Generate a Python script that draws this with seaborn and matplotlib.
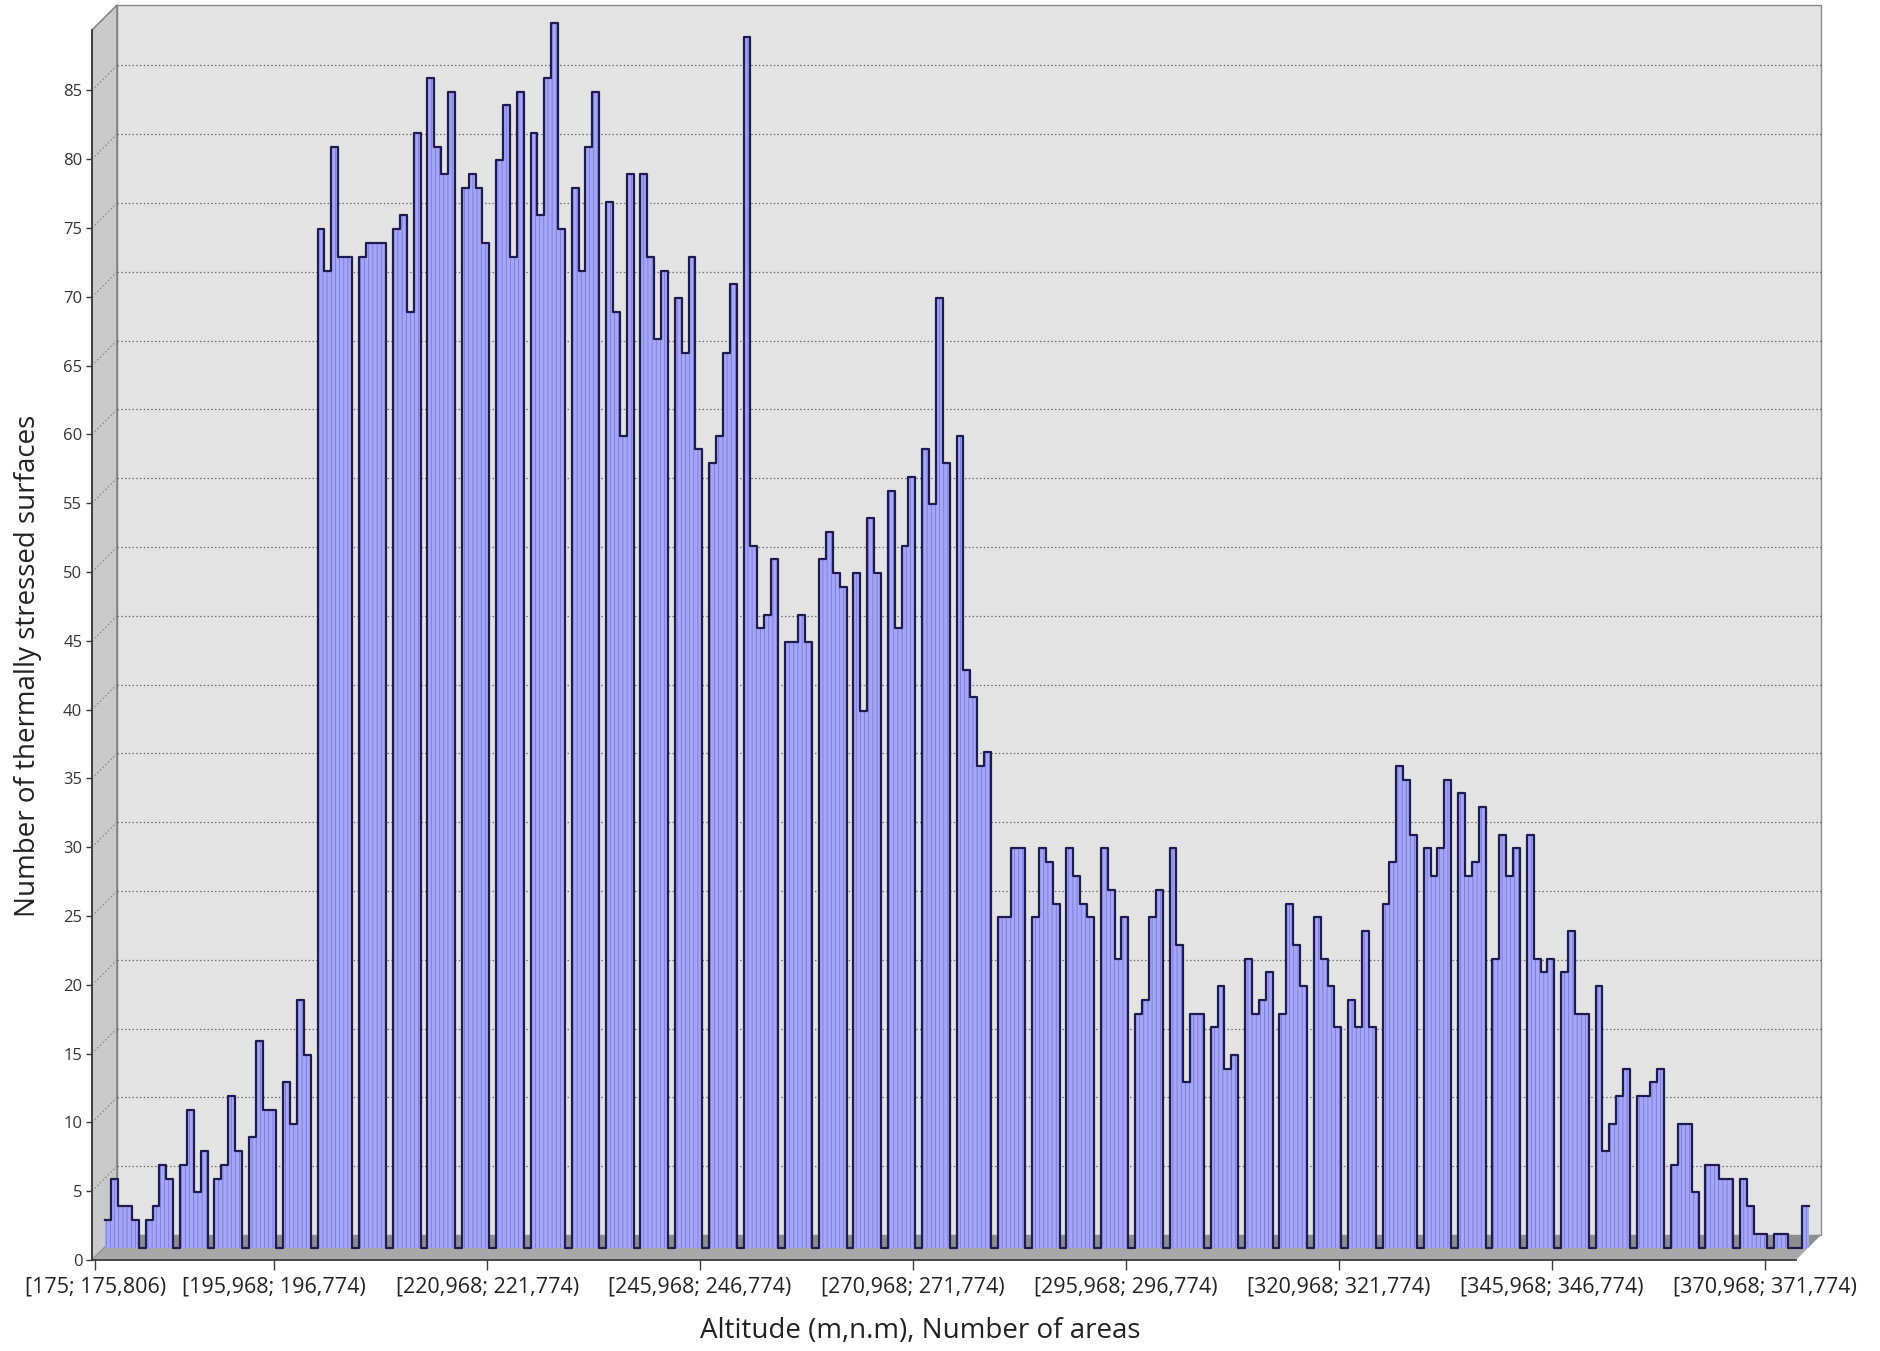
import numpy as np
import pandas as pd
import matplotlib
matplotlib.use("Agg")
import matplotlib.pyplot as plt
import matplotlib.transforms as mtransforms
from matplotlib.patches import Polygon, Rectangle
import seaborn as sns

# ---------------- data ----------------
bin_start = 175.0
bin_width = 25.0 / 31.0
counts = [
    2, 5, 3, 3, 2, 0, 2, 3, 6, 5, 0, 6, 10, 4, 7, 0, 5, 6, 11, 7, 0,
    8, 15, 10, 10, 0, 12, 9, 18, 14, 0,
    74, 71, 80, 72, 72, 0, 72, 73, 73, 73, 0, 74, 75, 68, 81, 0,
    85, 80, 78, 84, 0, 77, 78, 77, 73, 0, 79, 83, 72, 84, 0,
    81, 75, 85, 89, 74, 0, 77, 71, 80, 84, 0, 76, 68, 59, 78, 0,
    78, 72, 66, 71, 0, 69, 65, 72, 58, 0, 57, 59, 65, 70, 0,
    88, 51, 45, 46, 50, 0, 44, 44, 46, 44, 0, 50, 52, 49, 48, 0,
    49, 39, 53, 49, 0, 55, 45, 51, 56, 0, 58, 54, 69, 57, 0,
    59, 42, 40, 35, 36, 0, 24, 24, 29, 29, 0, 24, 29, 28, 25, 0,
    29, 27, 25, 24, 0, 29, 26, 21, 24, 0, 17, 18, 24, 26, 0,
    29, 22, 12, 17, 17, 0, 16, 19, 13, 14, 0, 21, 17, 18, 20, 0,
    17, 25, 22, 19, 0, 24, 21, 19, 16, 0, 18, 16, 23, 16, 0,
    25, 28, 35, 34, 30, 0, 29, 27, 29, 34, 0, 33, 27, 28, 32, 0,
    21, 30, 27, 29, 0, 30, 21, 20, 21, 0, 20, 23, 17, 17, 0,
    19, 7, 9, 11, 13, 0, 11, 11, 12, 13, 0, 6, 9, 9, 4, 0,
    6, 6, 5, 5, 0, 5, 3, 1, 1, 0, 1, 1, 0, 0, 3,
]
tick_bins = [0, 26, 57, 88, 119, 150, 181, 212, 243]
tick_labels = ["[175; 175,806)", "[195,968; 196,774)", "[220,968; 221,774)",
               "[245,968; 246,774)", "[270,968; 271,774)", "[295,968; 296,774)",
               "[320,968; 321,774)", "[345,968; 346,774)", "[370,968; 371,774)"]
y_ticks = list(range(0, 90, 5))
x_label = "Altitude (m,n.m), Number of areas"
y_label = "Number of thermally stressed surfaces"

n_bins = len(counts)
edges = bin_start + np.arange(n_bins + 1) * bin_width
centers = (edges[:-1] + edges[1:]) / 2
df = pd.DataFrame({"altitude": centers, "count": counts})

# ---------------- figure ----------------
W, H, DPI = 1881, 1351, 100
fig = plt.figure(figsize=(W / DPI, H / DPI), dpi=DPI)
fig.patch.set_facecolor("white")

x0, x1 = 92, 1796        # front plane, pixels
y_bot, y_top = 1260, 30  # front plane, pixels from top
px_per_unit = 13.76
ax = fig.add_axes([x0 / W, (H - y_bot) / H, (x1 - x0) / W, (y_bot - y_top) / H])
ax.set_xlim(edges[0], edges[-1])
ymax = (y_bot - y_top) / px_per_unit
ax.set_ylim(0, ymax)
ax.patch.set_visible(False)
for s in ax.spines.values():
    s.set_visible(False)

depth = 25.0  # 3D depth in px


def off(dx, dy):
    return mtransforms.ScaledTranslation(dx / DPI, dy / DPI, fig.dpi_scale_trans)


back = ax.transData + off(depth, depth)
mid = ax.transData + off(depth / 2, depth / 2)
ident = mtransforms.IdentityTransform()


def disp(x, y, t):
    return t.transform((x, y))


# back wall
ax.add_patch(Rectangle((edges[0], 0), edges[-1] - edges[0], ymax, transform=back,
                       facecolor="#E3E3E3", edgecolor="#8A8A8A", lw=1.0,
                       zorder=0, clip_on=False))
# left wall
p = [disp(edges[0], 0, ax.transData), disp(edges[0], ymax, ax.transData),
     disp(edges[0], ymax, back), disp(edges[0], 0, back)]
ax.add_patch(Polygon(p, closed=True, transform=ident, facecolor="#C9C9C9",
                     edgecolor="#7A7A7A", lw=1.0, zorder=0.5, clip_on=False))
# floor: back half (dark) and front half (lighter)
p = [disp(edges[0], 0, mid), disp(edges[-1], 0, mid),
     disp(edges[-1], 0, back), disp(edges[0], 0, back)]
ax.add_patch(Polygon(p, closed=True, transform=ident, facecolor="#8E8E8E",
                     edgecolor="none", zorder=0.6, clip_on=False))
p = [disp(edges[0], 0, ax.transData), disp(edges[-1], 0, ax.transData),
     disp(edges[-1], 0, mid), disp(edges[0], 0, mid)]
ax.add_patch(Polygon(p, closed=True, transform=ident, facecolor="#A8A8A8",
                     edgecolor="none", zorder=0.6, clip_on=False))

# gridlines on back wall and diagonal guides on left wall
for v in y_ticks[1:]:
    ax.plot([edges[0], edges[-1]], [v, v], transform=back, color="#6E6E6E",
            lw=0.9, ls=(0, (1.2, 1.8)), zorder=0.8, clip_on=False)
    a = disp(edges[0], v, ax.transData)
    b = disp(edges[0], v, back)
    ax.plot([a[0], b[0]], [a[1], b[1]], transform=ident, color="#8A8A8A",
            lw=0.9, ls=(0, (1.2, 1.8)), zorder=0.8, clip_on=False)

# bars (mid-depth plane)
plt.rcParams["hatch.color"] = "#7070D6"
plt.rcParams["hatch.linewidth"] = 0.5
n_before = len(ax.collections)
sns.histplot(data=df, x="altitude", weights="count", bins=n_bins,
             binrange=(edges[0], edges[-1]), element="step",
             fill=True, color="#A6A6F6", alpha=1.0, linewidth=0, ax=ax)
fill = ax.collections[n_before]
fill.set_facecolor("#A6A6F6")
fill.set_edgecolor("#7070D6")
fill.set_linewidth(0)
fill.set_hatch("||||")
fill.set_transform(mid)
fill.set_clip_on(False)
fill.set_zorder(2)

n_lines = len(ax.lines)
sns.histplot(data=df, x="altitude", weights="count", bins=n_bins,
             binrange=(edges[0], edges[-1]), element="step",
             fill=False, color="#1C1C50", linewidth=1.6, ax=ax)
for ln in ax.lines[n_lines:]:
    ln.set_transform(mid)
    ln.set_clip_on(False)
    ln.set_zorder(3)
for art in ax.collections[n_before + 1:]:
    art.set_transform(mid)
    art.set_clip_on(False)
    art.set_zorder(3)
ax.set_xlim(edges[0], edges[-1])
ax.set_ylim(0, ymax)
ax.set_xlabel("")
ax.set_ylabel("")

# front axes lines
ax.plot([edges[0], edges[-1]], [0, 0], color="#3A3A3A", lw=1.3, zorder=4, clip_on=False)
ax.plot([edges[0], edges[0]], [0, ymax], color="#3A3A3A", lw=1.3, zorder=4, clip_on=False)
a = disp(edges[-1], 0, ax.transData)
b = disp(edges[-1], 0, back)
ax.plot([a[0], b[0]], [a[1], b[1]], transform=ident, color="#707070", lw=1.0, zorder=4)

# ticks
ax.set_yticks(y_ticks)
ax.set_yticklabels([str(v) for v in y_ticks], fontsize=12, family="Open Sans",
                   color="#333333")
ax.set_xticks([centers[k] for k in tick_bins])
ax.set_xticklabels(tick_labels, fontsize=15.5, family="Open Sans", color="#222222")
ax.tick_params(axis="y", length=4, width=1.0, pad=3, color="#3A3A3A")
ax.tick_params(axis="x", length=7, width=1.0, pad=5, color="#3A3A3A")

fig.text(920 / W, 1 - 1331 / H, x_label, ha="center", va="center",
         fontsize=20, family="Open Sans", color="#222222")
fig.text(28 / W, 1 - 666 / H, y_label, ha="center", va="center", rotation=90,
         fontsize=20, family="Open Sans", color="#222222")

fig.savefig("out.png", dpi=DPI)
